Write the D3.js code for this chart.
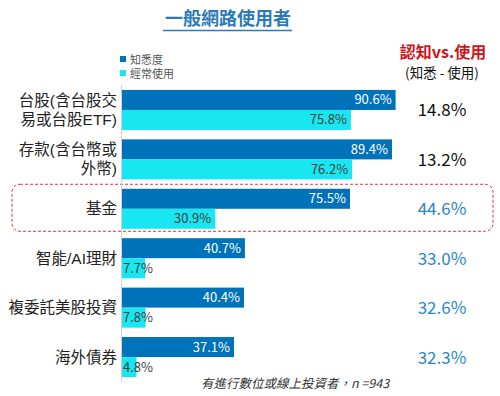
<!DOCTYPE html>
<html>
<head>
<meta charset="utf-8">
<script src="https://cdn.jsdelivr.net/npm/d3@7"></script>
<style>
  body { margin: 0; background: #fff; }
  text { font-family: "Noto Sans CJK TC", "Noto Sans", sans-serif; }
  text.cat-label { font-family: "Liberation Sans", "Noto Sans CJK TC", sans-serif; }
</style>
</head>
<body>
<svg id="chart" width="500" height="396"></svg>
<script>
// ===== DATA =====
const categories = [
  ["台股(含台股交", "易或台股ETF)"],
  ["存款(含台幣或", "外幣)"],
  ["基金"],
  ["智能/AI理財"],
  ["複委託美股投資"],
  ["海外債券"]
];
const awareness = [90.6, 89.4, 75.5, 40.7, 40.4, 37.1];
const frequentUse = [75.8, 76.2, 30.9, 7.7, 7.8, 4.8];
const gap = [14.8, 13.2, 44.6, 33.0, 32.6, 32.3];
const seriesNames = ["知悉度", "經常使用"];
const highlightIndex = 2;

const darkBlue = "#0072b9";
const cyan = "#18e6f0";
const diffBlue = "#2a86c8";

const svg = d3.select("#chart");

// ===== SCALES =====
const x = d3.scaleLinear().domain([0, 100]).range([122, 424]);
const y = d3.scaleBand().domain(d3.range(categories.length)).range([85, 382]).paddingInner(0.19).paddingOuter(0.1);
const barH = y.bandwidth() / 2;

// ===== TITLE =====
svg.append("text")
  .attr("x", 228).attr("y", 25)
  .attr("text-anchor", "middle")
  .attr("fill", "#2a7ab8")
  .attr("font-size", "18px").attr("font-weight", "bold")
  .text("一般網路使用者");
svg.append("line")
  .attr("x1", 163).attr("x2", 292).attr("y1", 30.5).attr("y2", 30.5)
  .attr("stroke", "#2a7ab8").attr("stroke-width", 1.5);

// ===== LEGEND =====
[darkBlue, cyan].forEach((c, i) => {
  svg.append("rect")
    .attr("x", 120).attr("y", 56 + i * 14)
    .attr("width", 6).attr("height", 6)
    .attr("fill", c);
  svg.append("text")
    .attr("x", 130).attr("y", 63.5 + i * 14.5)
    .attr("fill", "#555").attr("font-size", "11px")
    .text(seriesNames[i]);
});

// ===== RIGHT HEADER =====
svg.append("text")
  .attr("x", 443).attr("y", 58)
  .attr("text-anchor", "middle")
  .attr("fill", "#d0121b").attr("font-size", "16px").attr("font-weight", "bold")
  .text("認知vs.使用");
svg.append("text")
  .attr("x", 442).attr("y", 78)
  .attr("text-anchor", "middle")
  .attr("fill", "#111").attr("font-size", "13.5px")
  .text("(知悉 - 使用)");

// ===== HIGHLIGHT BOX =====
svg.append("rect")
  .attr("x", 12).attr("y", y(highlightIndex) - 4.5)
  .attr("width", 481).attr("height", y.bandwidth() + 7)
  .attr("rx", 8).attr("ry", 8)
  .attr("fill", "none")
  .attr("stroke", "#e8343a").attr("stroke-width", 1)
  .attr("stroke-dasharray", "3,2");

// ===== BARS =====
const groups = svg.selectAll("g.cat")
  .data(categories)
  .join("g")
  .attr("class", "cat")
  .attr("transform", (d, i) => `translate(0,${y(i)})`);

groups.append("rect")
  .attr("x", x(0))
  .attr("y", 0)
  .attr("width", (d, i) => x(awareness[i]) - x(0))
  .attr("height", barH)
  .attr("fill", darkBlue);

groups.append("rect")
  .attr("x", x(0))
  .attr("y", barH)
  .attr("width", (d, i) => x(frequentUse[i]) - x(0))
  .attr("height", barH)
  .attr("fill", cyan);

// value labels
groups.append("text")
  .attr("x", (d, i) => x(awareness[i]) - 4)
  .attr("y", barH / 2 + 4.5)
  .attr("text-anchor", "end")
  .attr("fill", "#fff").attr("font-size", "13px")
  .text((d, i) => awareness[i].toFixed(1) + "%");

groups.append("text")
  .attr("x", (d, i) => frequentUse[i] < 12 ? x(0) + 1 : x(frequentUse[i]) - 4)
  .attr("y", barH * 1.5 + 4.5)
  .attr("text-anchor", (d, i) => frequentUse[i] < 12 ? "start" : "end")
  .attr("fill", "#404040").attr("font-size", "13px")
  .text((d, i) => frequentUse[i].toFixed(1) + "%");

// category labels (multi-line via tspans)
groups.each(function (d) {
  const mid = y.bandwidth() / 2;
  const t = d3.select(this).append("text")
    .attr("class", "cat-label")
    .attr("text-anchor", "end")
    .attr("fill", "#222").attr("font-size", "15.5px");
  d.forEach((line, j) => {
    t.append("tspan")
      .attr("x", 117)
      .attr("y", mid + 5.5 + (j - (d.length - 1) / 2) * 19)
      .text(line);
  });
});

// gap values
groups.append("text")
  .attr("x", 442)
  .attr("y", y.bandwidth() / 2 + 6.5)
  .attr("text-anchor", "middle")
  .attr("fill", (d, i) => i < 2 ? "#111" : diffBlue)
  .attr("font-size", "17px")
  .text((d, i) => gap[i].toFixed(1) + "%");

// ===== AXIS LINE =====
svg.append("line")
  .attr("x1", x(0) - 0.5).attr("x2", x(0) - 0.5)
  .attr("y1", 85).attr("y2", 382)
  .attr("stroke", "#d0d0d0").attr("stroke-width", 1);

// ===== FOOTNOTE =====
svg.append("text")
  .attr("x", 295).attr("y", 388)
  .attr("text-anchor", "middle")
  .attr("fill", "#333").attr("font-size", "12.5px").attr("font-style", "italic")
  .text("有進行數位或線上投資者，n =943");
</script>
</body>
</html>
